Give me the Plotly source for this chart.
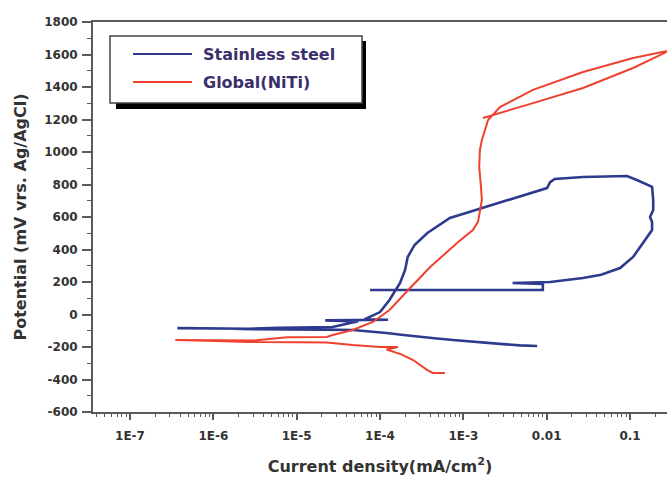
import plotly.graph_objects as go

# Stainless steel (current density mA/cm^2, potential mV)
steel_current = [7.7e-3, 6.0e-3, 4.8e-3, 3.0e-3, 1.9e-3, 1.2e-3, 7.5e-4, 4.5e-4, 3.0e-4, 1.8e-4,
                 1.2e-4, 7.5e-5, 4.7e-5, 2.0e-5, 8.0e-6, 3.0e-6, 1.2e-6, 3.7e-7,
                 1.1e-6, 2.6e-6, 6.0e-6, 1.5e-5, 2.7e-5, 4.4e-5, 5.5e-5, 2.2e-5, 1.25e-4, 6.5e-5,
                 7.0e-5, 1.0e-4, 1.3e-4, 1.74e-4, 2.0e-4, 2.15e-4, 2.6e-4, 3.7e-4, 6.9e-4, 1.67e-3,
                 4.4e-3, 8.0e-3, 0.0101, 0.011, 0.0125, 0.0273, 0.05, 0.092, 0.121, 0.143, 0.184,
                 0.19, 0.19, 0.174, 0.184, 0.184, 0.16, 0.143, 0.109, 0.076, 0.045, 0.0273, 0.011,
                 3.9e-3, 9.0e-3, 9.0e-3, 7.6e-5]
steel_potential = [-194, -194, -190, -182, -175, -166, -157, -146, -138, -125,
                   -114, -103, -95, -93, -93, -90, -86, -84,
                   -86, -88, -82, -80, -77, -52, -42, -36, -32, -30,
                   -22, 15, 89, 194, 274, 354, 428, 502, 594, 655,
                   723, 760, 778, 815, 834, 846, 848, 852, 828, 809, 785,
                   705, 643, 600, 569, 520, 477, 440, 354, 286, 245, 225, 200,
                   194, 188, 151, 151]

# Global (NiTi)
niti_current = [6.0e-4, 4.3e-4, 3.7e-4, 3.0e-4, 2.5e-4, 1.8e-4, 1.2e-4, 1.64e-4, 1.0e-4, 4.7e-5,
                2.3e-5, 1.0e-5, 2.6e-6, 1.1e-6, 3.5e-7,
                1.1e-6, 3.0e-6, 7.7e-6, 2.3e-5, 2.7e-5, 4.7e-5, 8.2e-5, 1.3e-4, 2.3e-4, 4.0e-4,
                8.4e-4, 1.3e-3, 1.5e-3, 1.58e-3, 1.67e-3, 1.62e-3, 1.55e-3, 1.58e-3, 1.67e-3, 1.98e-3,
                2.27e-3, 2.75e-3, 6.85e-3, 0.0273, 0.109, 0.3,
                0.109, 0.0273, 6.85e-3, 2.27e-3, 1.72e-3]
niti_potential = [-360, -360, -342, -310, -280, -245, -215, -200, -200, -188,
                  -172, -170, -169, -163, -157,
                  -158, -160, -140, -138, -126, -95, -46, 28, 163, 292,
                  440, 520, 570, 625, 705, 800, 908, 1012, 1074, 1197,
                  1228, 1277, 1382, 1492, 1578, 1625,
                  1517, 1394, 1301, 1228, 1209]

x_tickvals = [1e-7, 1e-6, 1e-5, 1e-4, 1e-3, 1e-2, 1e-1]
x_ticktext = ["1E-7", "1E-6", "1E-5", "1E-4", "1E-3", "0.01", "0.1"]
minor_mult = [2, 3, 4, 5, 6, 7, 8, 9]
x_minor = [m * 10.0 ** k for k in range(-8, 0) for m in minor_mult]
y_tickvals = [-600, -400, -200, 0, 200, 400, 600, 800, 1000, 1200, 1400, 1600, 1800]
y_ticktext = [str(v) for v in y_tickvals]

series_names = ["Stainless steel", "Global(NiTi)"]
blue = "#2d3a8e"
red = "#f0412f"

fig = go.Figure()
fig.add_trace(go.Scatter(x=steel_current, y=steel_potential, mode="lines",
                         line=dict(color=blue, width=2.6), name=series_names[0], showlegend=False))
fig.add_trace(go.Scatter(x=niti_current, y=niti_potential, mode="lines",
                         line=dict(color=red, width=2), name=series_names[1], showlegend=False))

FONT = "DejaVu Sans"
tickfont = dict(family=FONT, size=12, color="#333333", weight="bold")
titlefont = dict(family=FONT, size=16, color="#333333", weight="bold")
axcol = "#5a5a5a"

fig.update_layout(
    width=667, height=479,
    margin=dict(l=93, r=0, t=22, b=67),
    paper_bgcolor="white", plot_bgcolor="white",
    xaxis=dict(type="log", range=[-7.444, -0.556],
               tickmode="array", tickvals=x_tickvals, ticktext=x_ticktext,
               ticks="outside", ticklen=6, tickwidth=1.5, tickcolor=axcol, ticklabelstandoff=6,
               minor=dict(tickmode="array", tickvals=x_minor, ticks="outside", ticklen=3,
                          tickwidth=1.2, tickcolor=axcol, showgrid=False),
               showline=True, linecolor=axcol, linewidth=2, mirror=True,
               showgrid=False, zeroline=False, tickfont=tickfont,
               title=dict(text="Current density(mA/cm<sup>2</sup>)", standoff=18, font=titlefont)),
    yaxis=dict(range=[-600, 1800], tickmode="array", tickvals=y_tickvals, ticktext=y_ticktext,
               ticks="outside", ticklen=9, tickwidth=1.5, tickcolor=axcol, ticklabelstandoff=2,
               minor=dict(dtick=100, tick0=0, ticks="outside", ticklen=4, tickwidth=1.2,
                          tickcolor=axcol, showgrid=False),
               showline=True, linecolor=axcol, linewidth=2,
               showgrid=False, zeroline=False, tickfont=tickfont,
               title=dict(text="Potential (mV vrs. Ag/AgCl)", standoff=14, font=titlefont)),
)

# Legend box (drawn manually to match the framed, shadowed legend)
W, H = 574.0, 390.0
def px(x):
    return (x - 93) / W
def py(y):
    return 1 - (y - 22) / H

fig.add_shape(type="rect", xref="paper", yref="paper", x0=px(116), x1=px(366), y0=py(109), y1=py(41),
              fillcolor="black", line=dict(width=0))
fig.add_shape(type="rect", xref="paper", yref="paper", x0=px(110), x1=px(362), y0=py(103), y1=py(36),
              fillcolor="white", line=dict(color="#444444", width=1.5))
legend_colors = [blue, red]
legend_rows = [54, 82]
for name, col, row in zip(series_names, legend_colors, legend_rows):
    fig.add_shape(type="line", xref="paper", yref="paper", x0=px(133), x1=px(192), y0=py(row), y1=py(row),
                  line=dict(color=col, width=2))
    fig.add_annotation(xref="paper", yref="paper", x=px(201), y=py(row), text=name, showarrow=False,
                       xanchor="left", yanchor="middle",
                       font=dict(family=FONT, size=16, color="#3b2f6b", weight="bold"))

fig.write_html("out.html")
